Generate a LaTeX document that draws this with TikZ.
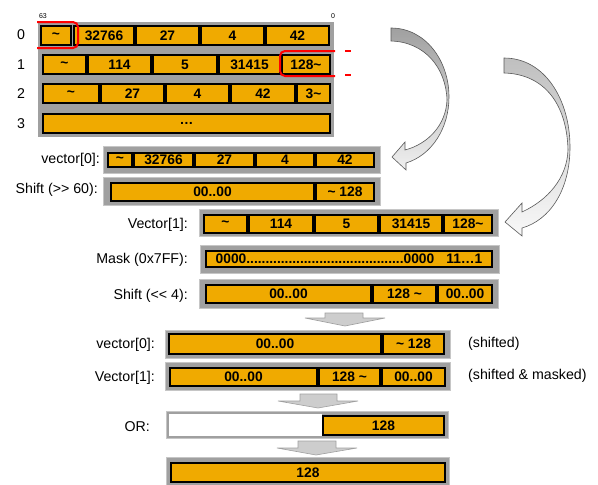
\documentclass[tikz,border=0pt]{standalone}
\usepackage{fontspec}
\setmainfont{Liberation Sans}

\definecolor{cellorange}{RGB}{240,170,0}
\definecolor{framegray}{RGB}{160,160,160}
\definecolor{blockgray}{RGB}{205,205,205}

\tikzset{
  cell/.style={draw=black, line width=2pt, fill=cellorange, inner sep=0pt,
    font=\bfseries\fontsize{13.8}{15}\selectfont},
  rowlabel/.style={anchor=east, inner sep=0pt, font=\fontsize{14.2}{16}\selectfont},
  note/.style={anchor=west, inner sep=0pt, font=\fontsize{14.2}{16}\selectfont},
  frame/.style={fill=framegray, draw=framegray!60, line width=0.6pt},
  blockarrow/.style={fill=blockgray, draw=framegray, line width=0.6pt},
  marker/.style={red, line width=2pt, rounded corners=5pt}
}

% cell: name, x left, x right, y top, y bottom, text
\newcommand{\bitcell}[6]{%
  \node[cell, minimum width={#3-#2-2}, minimum height={#5-#4-2}] (#1)
    at ({(#2+#3)/2},{(#4+#5)/2}) {#6};}

\begin{document}
\begin{tikzpicture}[x=1pt, y=-1pt]
	\useasboundingbox (0,0) rectangle (598,485);

	% memory, four words
	\node[font=\fontsize{7}{8}\selectfont, inner sep=0pt] (msb) at (43,16) {63};
	\node[font=\fontsize{7}{8}\selectfont, inner sep=0pt] (lsb) at (333,16) {0};
	\node[font=\fontsize{14.2}{16}\selectfont] (w0) at (21,35) {0};
	\node[font=\fontsize{14.2}{16}\selectfont] (w1) at (21,65) {1};
	\node[font=\fontsize{14.2}{16}\selectfont] (w2) at (21,94) {2};
	\node[font=\fontsize{14.2}{16}\selectfont] (w3) at (21,124) {3};
	\fill[framegray] (38,22) rectangle (334,137);
	\bitcell{m0a}{40}{72}{25}{46}{\textasciitilde}
	\bitcell{m0b}{73}{135}{25}{46}{32766}
	\bitcell{m0c}{135}{200}{25}{46}{27}
	\bitcell{m0d}{200}{265}{25}{46}{4}
	\bitcell{m0e}{265}{330}{25}{46}{42}
	\bitcell{m1a}{42}{87}{54}{75}{\textasciitilde}
	\bitcell{m1b}{87}{152}{54}{75}{114}
	\bitcell{m1c}{152}{218}{54}{75}{5}
	\bitcell{m1d}{218}{281}{54}{75}{31415}
	\bitcell{m1e}{281}{331}{54}{75}{128\textasciitilde}
	\bitcell{m2a}{42}{100}{83}{104}{\textasciitilde}
	\bitcell{m2b}{100}{165}{83}{104}{27}
	\bitcell{m2c}{165}{230}{83}{104}{4}
	\bitcell{m2d}{230}{296}{83}{104}{42}
	\bitcell{m2e}{296}{331}{83}{104}{3\textasciitilde}
	\bitcell{m3}{42}{331}{113}{134}{…}
	% red markers
	\draw[marker] (37,22) -- (78,22) -- (78,48) -- (37,48);
	\draw[marker] (335,51) -- (280,51) -- (280,76) -- (335,76);
	\draw[red, line width=2pt] (345,51) -- (351,51);
	\draw[red, line width=2pt] (345,75) -- (351,75);

	% curved arrows
	\shadedraw[top color=framegray, bottom color=gray!12, draw=gray!70!black, line width=0.6pt]
		(391,28) .. controls (425,28) and (449,60) .. (449,97)
		.. controls (449,128) and (432,155) .. (406,163) -- (406,170) -- (392,157)
		-- (405,142) -- (405,150) .. controls (428,144) and (446,125) .. (447,100)
		.. controls (446,68) and (425,42) .. (391,41) -- cycle;
	\shadedraw[top color=gray!50, bottom color=gray!5, draw=gray!70!black, line width=0.6pt]
		(504,58) .. controls (545,58) and (570,100) .. (570,147)
		.. controls (570,190) and (550,220) .. (522,228) -- (522,236) -- (505,222)
		-- (522,203) -- (522,212) .. controls (548,200) and (567,178) .. (568,150)
		.. controls (567,105) and (545,74) .. (504,73) -- cycle;

	% vector[0] and its shift
	\node[rowlabel] (v0lbl) at (100,160) {vector[0]:};
	\fill[frame] (103,146) rectangle (380,173);
	\bitcell{v0a}{107}{133}{152}{168}{\textasciitilde}
	\bitcell{v0b}{133}{194}{152}{168}{32766}
	\bitcell{v0c}{194}{255}{152}{168}{27}
	\bitcell{v0d}{255}{315}{152}{168}{4}
	\bitcell{v0e}{315}{375}{152}{168}{42}
	\node[rowlabel] (s0lbl) at (98,190) {Shift ({>}{>} 60):};
	\fill[frame] (103,177) rectangle (380,205);
	\bitcell{s0a}{110}{315}{182}{202}{00..00}
	\bitcell{s0b}{315}{375}{182}{202}{\textasciitilde{} 128}

	% vector[1], mask and shift
	\node[rowlabel] (v1lbl) at (188,225) {Vector[1]:};
	\fill[frame] (199,209) rectangle (498,236);
	\bitcell{v1a}{203}{248}{214}{234}{\textasciitilde}
	\bitcell{v1b}{248}{314}{214}{234}{114}
	\bitcell{v1c}{314}{379}{214}{234}{5}
	\bitcell{v1d}{379}{443}{214}{234}{31415}
	\bitcell{v1e}{443}{493}{214}{234}{128\textasciitilde}
	\node[rowlabel] (mklbl) at (188,260) {Mask (0x7FF):};
	\fill[frame] (200,245) rectangle (499,273);
	\bitcell{mk}{205}{493}{250}{268}{0000.........................................0000\hspace{12pt}11…1}
	\node[rowlabel] (s1lbl) at (188,296) {Shift ({<}{<} 4):};
	\fill[frame] (199,279) rectangle (498,308);
	\bitcell{s1a}{205}{372}{284}{304}{00..00}
	\bitcell{s1b}{372}{437}{284}{304}{128 \textasciitilde}
	\bitcell{s1c}{437}{493}{284}{304}{00..00}

	\filldraw[blockarrow] (325,313) -- (363,313) -- (363,318) -- (385,318) -- (345,326)
		-- (305,318) -- (325,318) -- cycle;

	% combined
	\node[rowlabel] (c0lbl) at (155,345) {vector[0]:};
	\fill[frame] (165,330) rectangle (450,358);
	\bitcell{c0a}{168}{382}{333}{355}{00..00}
	\bitcell{c0b}{382}{445}{333}{355}{\textasciitilde{} 128}
	\node[note] (c0note) at (468,344) {(shifted)};
	\node[rowlabel] (c1lbl) at (155,378) {Vector[1]:};
	\fill[frame] (165,362) rectangle (450,390);
	\bitcell{c1a}{169}{318}{367}{387}{00..00}
	\bitcell{c1b}{318}{381}{367}{387}{128 \textasciitilde}
	\bitcell{c1c}{381}{446}{367}{387}{00..00}
	\node[note] (c1note) at (468,376) {(shifted \& masked)};

	\filldraw[blockarrow] (300,394) -- (337,394) -- (337,401) -- (358,401) -- (318,408)
		-- (278,401) -- (300,401) -- cycle;

	\node[rowlabel] (orlbl) at (150,427) {OR:};
	\fill[frame] (166,411) rectangle (448,438);
	\fill[white] (169,414) rectangle (322,436);
	\bitcell{or}{322}{445}{415}{436}{128}

	\filldraw[blockarrow] (298,441) -- (336,441) -- (336,448) -- (357,448) -- (316,455)
		-- (277,448) -- (298,448) -- cycle;

	\fill[frame] (166,457) rectangle (449,485);
	\bitcell{res}{170}{446}{462}{483}{128}
\end{tikzpicture}
\end{document}
